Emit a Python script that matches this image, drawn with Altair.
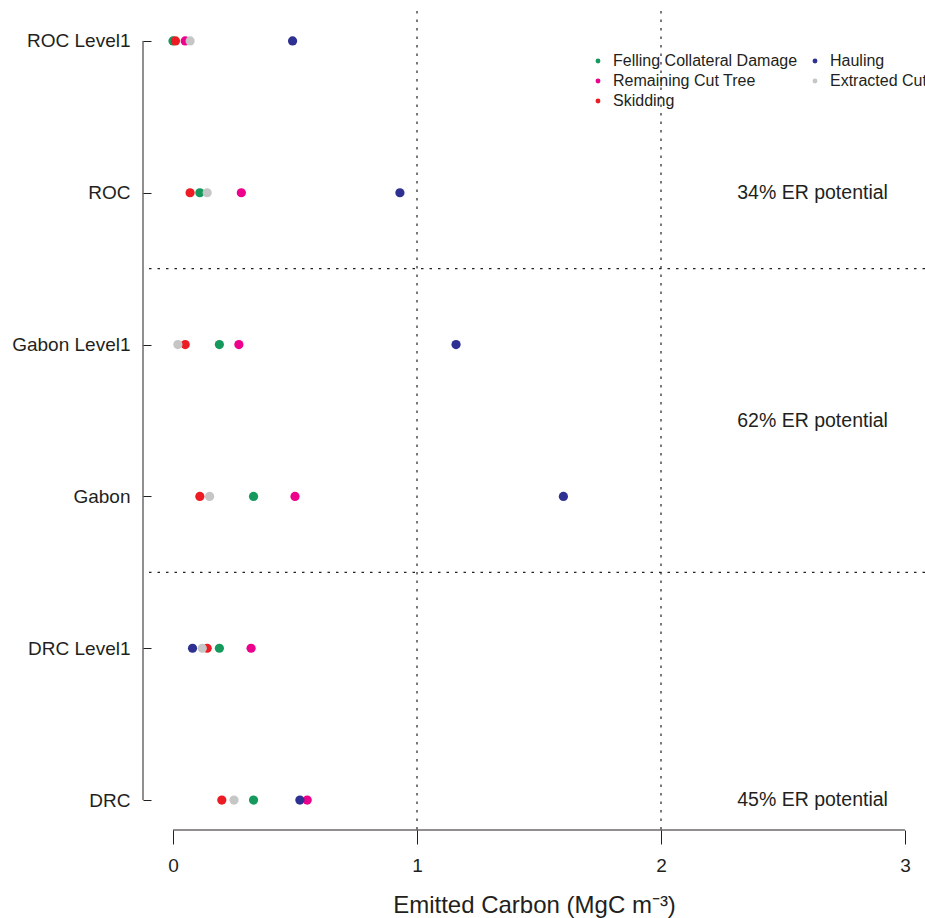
import altair as alt
import pandas as pd

# Logging sites, listed top to bottom as they appear on the y axis
sites = ["ROC Level1", "ROC", "Gabon Level1", "Gabon", "DRC Level1", "DRC"]

# Emitted carbon (MgC m^-3) per activity, one value per site (same order as `sites`)
felling = [0.00, 0.11, 0.19, 0.33, 0.19, 0.33]
remaining = [0.05, 0.28, 0.27, 0.50, 0.32, 0.55]
skidding = [0.01, 0.07, 0.05, 0.11, 0.14, 0.20]
hauling = [0.49, 0.93, 1.16, 1.60, 0.08, 0.52]
extracted = [0.07, 0.14, 0.02, 0.15, 0.12, 0.25]

# Activities in drawing (and legend) order, with their colours
activities = ["Felling Collateral Damage", "Remaining Cut Tree", "Skidding",
              "Hauling", "Extracted Cut Tree"]
colors = ["#16995c", "#ec008c", "#ed1c24", "#2e3192", "#c6c6c6"]
series = [felling, remaining, skidding, hauling, extracted]

# Emission-reduction potential notes per country
er_labels = ["34% ER potential", "62% ER potential", "45% ER potential"]
er_rows = [4.0, 2.5, 0.0]

# Country group separators and reference lines
separators = [1.5, 3.5]
x_refs = [1, 2]
x_ticks = [0, 1, 2, 3]

n = len(sites)
site_pos = {s: n - 1 - i for i, s in enumerate(sites)}

rows = []
for act, vals in zip(activities, series):
    for s, v in zip(sites, vals):
        rows.append({"site": s, "pos": site_pos[s], "activity": act, "carbon": v})
df = pd.DataFrame(rows)

labels_js = "[" + ",".join("'%s'" % s for s in sites[::-1]) + "]"

FONT = "Liberation Sans"
INK = "#231f20"

x_scale = alt.Scale(domain=[-0.123, 3.082], nice=False, zero=False)
y_scale = alt.Scale(domain=[-0.197, 5.197], nice=False, zero=False)

points = alt.Chart(df).mark_circle(size=85, opacity=1).encode(
    x=alt.X("carbon:Q", scale=x_scale,
            axis=alt.Axis(values=x_ticks, format="d", domain=False, grid=False,
                          tickSize=14, tickColor=INK, tickWidth=1, labelPadding=12,
                          labelFontSize=19, labelColor=INK, labelFont=FONT,
                          title="Emitted Carbon (MgC m\u207b\u00b3)",
                          titleFontSize=24, titleFont=FONT, titleColor=INK,
                          titleFontWeight="normal", titlePadding=18)),
    y=alt.Y("pos:Q", scale=y_scale,
            axis=alt.Axis(values=list(range(n)), labelExpr=labels_js + "[datum.value]",
                          domain=False, grid=False, offset=-8, tickSize=8,
                          tickColor=INK, tickWidth=1, labelPadding=13,
                          labelFontSize=19, labelColor=INK, labelFont=FONT,
                          title=None)),
    color=alt.Color("activity:N",
                    scale=alt.Scale(domain=activities, range=colors),
                    legend=alt.Legend(title=None, orient="none", legendX=447, legendY=42,
                                      columns=2, symbolType="circle", symbolSize=24,
                                      symbolStrokeWidth=0, labelFontSize=16,
                                      labelFont=FONT, labelColor=INK, labelOffset=7,
                                      labelLimit=400, rowPadding=4, columnPadding=9,
                                      padding=0)),
)

dotted = dict(strokeDash=[2.5, 6], color="#222222", strokeWidth=1.2)

vlines = alt.Chart(pd.DataFrame({"x": x_refs})).mark_rule(**dotted).encode(
    x=alt.X("x:Q", scale=x_scale))
hlines = alt.Chart(pd.DataFrame({"y": separators})).mark_rule(**dotted).encode(
    y=alt.Y("y:Q", scale=y_scale))

# R-style axis lines spanning only the tick range
x_axis_line = alt.Chart(pd.DataFrame({"a": [x_ticks[0]], "b": [x_ticks[-1]]})).mark_rule(
    color=INK, strokeWidth=1).encode(
    x=alt.X("a:Q", scale=x_scale), x2="b:Q", y=alt.value(819))
y_axis_line = alt.Chart(pd.DataFrame({"a": [0], "b": [n - 1]})).mark_rule(
    color=INK, strokeWidth=1).encode(
    y=alt.Y("a:Q", scale=y_scale), y2="b:Q", x=alt.value(0))

notes = alt.Chart(pd.DataFrame({"t": er_labels, "y": er_rows, "x": [2.93] * 3})).mark_text(
    align="right", baseline="middle", fontSize=19.5, font=FONT, color=INK).encode(
    x=alt.X("x:Q", scale=x_scale), y=alt.Y("y:Q", scale=y_scale), text="t:N")

chart = alt.layer(vlines, hlines, x_axis_line, y_axis_line, notes, points).properties(
    width=782, height=819,
    background="white",
    autosize=alt.AutoSizeParams(type="none"),
    padding={"left": 143, "top": 11, "right": 0, "bottom": 88},
).configure_view(stroke=None)

chart.save("out.html", embed_options={"renderer": "svg", "actions": False})
